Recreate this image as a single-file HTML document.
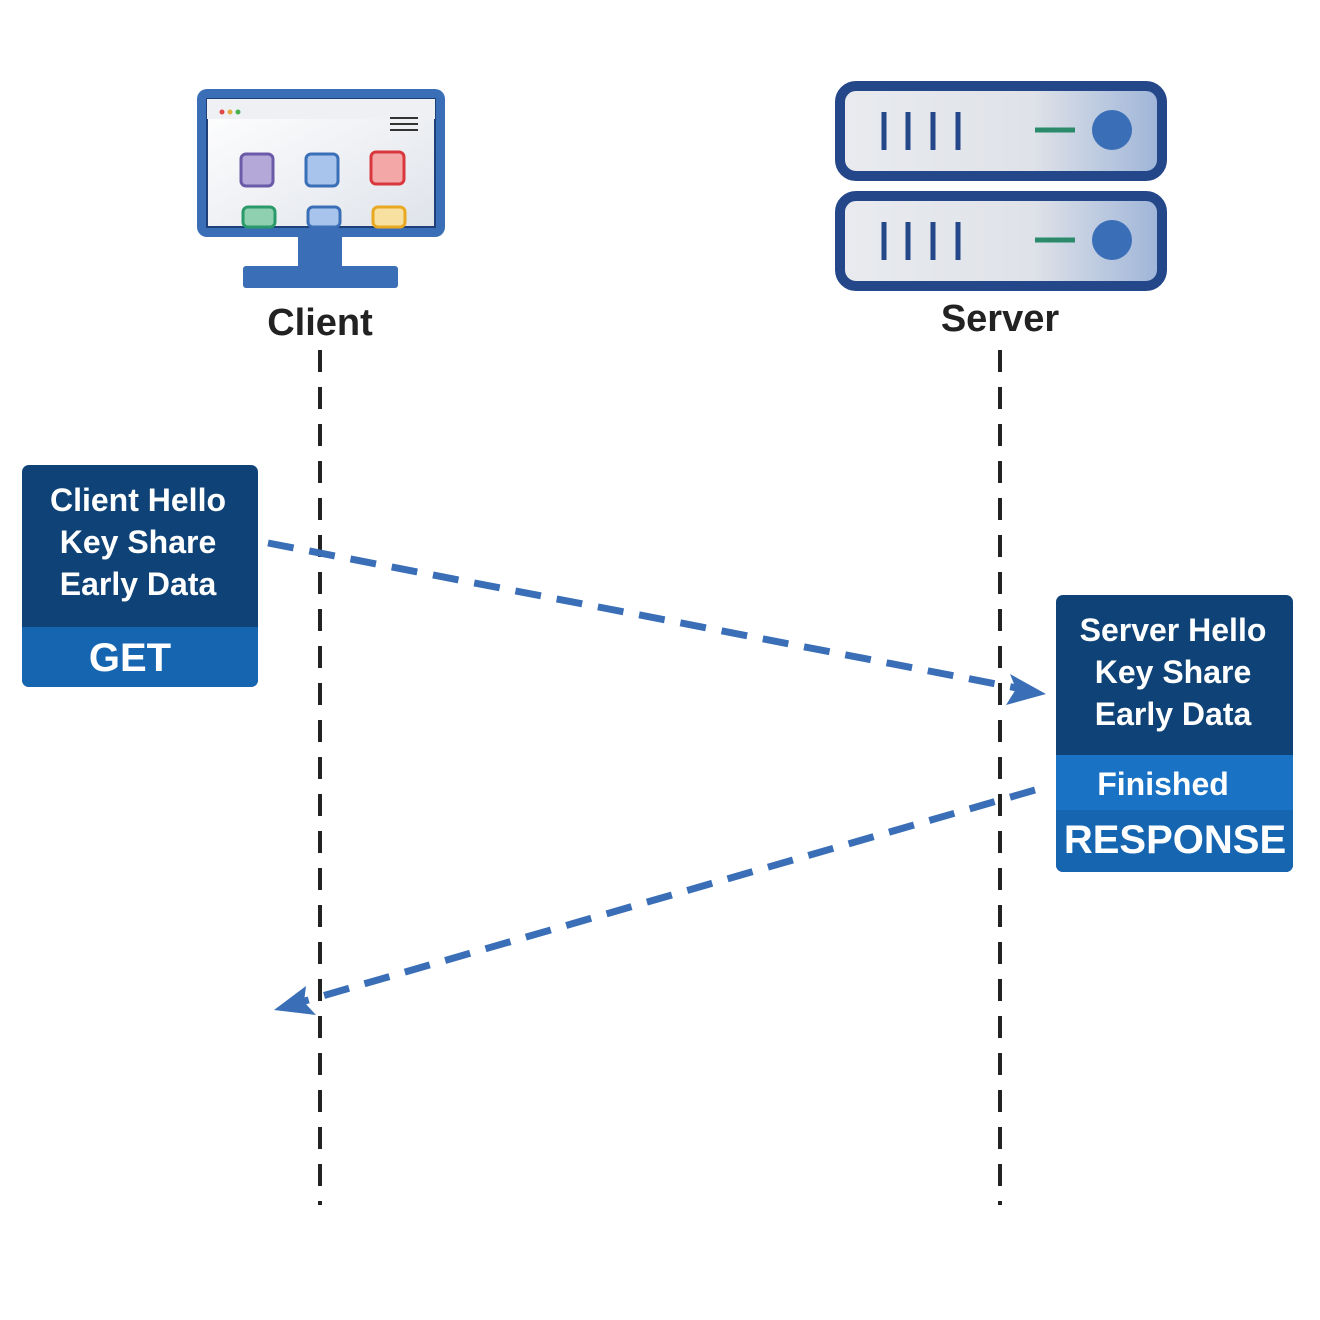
<!DOCTYPE html>
<html><head><meta charset="utf-8"><style>
html,body{margin:0;padding:0;background:#fff;}
svg{display:block;}
text{font-family:"Liberation Sans",sans-serif;font-weight:bold;}
</style></head><body>
<svg width="1320" height="1320" viewBox="0 0 1320 1320">
<defs>
<linearGradient id="scr" x1="0" y1="0" x2="1" y2="1"><stop offset="0" stop-color="#ffffff"/><stop offset="1" stop-color="#dfe3ea"/></linearGradient>
<linearGradient id="srv" x1="0" y1="0" x2="1" y2="0"><stop offset="0" stop-color="#e9ebef"/><stop offset="0.6" stop-color="#dfe2e8"/><stop offset="1" stop-color="#9db4d8"/></linearGradient>
</defs>
<g>
<rect x="197" y="89" width="248" height="148" rx="10" fill="#3a6fb8"/>
<rect x="207" y="99" width="228" height="128" fill="url(#scr)" stroke="#1f3f78" stroke-width="2"/>
<rect x="207" y="99" width="228" height="20" fill="#eef0f4"/>
<circle cx="222" cy="112" r="2.5" fill="#e04848"/><circle cx="230" cy="112" r="2.5" fill="#e0b040"/><circle cx="238" cy="112" r="2.5" fill="#4caf50"/>
<line x1="390" y1="118" x2="418" y2="118" stroke="#333" stroke-width="2"/><line x1="390" y1="124" x2="418" y2="124" stroke="#333" stroke-width="2"/><line x1="390" y1="130" x2="418" y2="130" stroke="#333" stroke-width="2"/>
<rect x="241" y="154" width="32" height="32" rx="5" fill="#b3a8d8" stroke="#6a5aa8" stroke-width="3"/>
<rect x="306" y="154" width="32" height="32" rx="5" fill="#a9c4ec" stroke="#3a6fb8" stroke-width="3"/>
<rect x="371" y="152" width="33" height="32" rx="5" fill="#f3a7a7" stroke="#d8383d" stroke-width="3"/>
<rect x="243" y="207" width="32" height="20" rx="5" fill="#8fd0b0" stroke="#2a9a6a" stroke-width="3"/>
<rect x="308" y="207" width="32" height="20" rx="5" fill="#a9c4ec" stroke="#3a6fb8" stroke-width="3"/>
<rect x="373" y="207" width="32" height="20" rx="5" fill="#f8e0a0" stroke="#e8a820" stroke-width="3"/>
<rect x="298" y="237" width="44" height="30" fill="#3a6fb8"/>
<rect x="243" y="266" width="155" height="22" rx="3" fill="#3a6fb8"/>
</g>
<g>
<rect x="840" y="86" width="322" height="90" rx="16" fill="url(#srv)" stroke="#24478a" stroke-width="10"/>
<rect x="840" y="196" width="322" height="90" rx="16" fill="url(#srv)" stroke="#24478a" stroke-width="10"/>
<g stroke="#24478a" stroke-width="5">
<line x1="884" y1="112" x2="884" y2="150"/><line x1="908" y1="112" x2="908" y2="150"/><line x1="933" y1="112" x2="933" y2="150"/><line x1="958" y1="112" x2="958" y2="150"/>
<line x1="884" y1="222" x2="884" y2="260"/><line x1="908" y1="222" x2="908" y2="260"/><line x1="933" y1="222" x2="933" y2="260"/><line x1="958" y1="222" x2="958" y2="260"/>
</g>
<line x1="1035" y1="130" x2="1075" y2="130" stroke="#2a8a6a" stroke-width="5"/>
<line x1="1035" y1="240" x2="1075" y2="240" stroke="#2a8a6a" stroke-width="5"/>
<circle cx="1112" cy="130" r="20" fill="#3a6fb8"/><circle cx="1112" cy="240" r="20" fill="#3a6fb8"/>
</g>
<text x="320" y="335" font-size="38" text-anchor="middle" fill="#222">Client</text>
<text x="1000" y="331" font-size="38" text-anchor="middle" fill="#222">Server</text>
<line x1="320" y1="350" x2="320" y2="1205" stroke="#222" stroke-width="4" stroke-dasharray="22 15"/>
<line x1="1000" y1="350" x2="1000" y2="1205" stroke="#222" stroke-width="4" stroke-dasharray="22 15"/>
<g>
<rect x="22" y="465" width="236" height="222" rx="7" fill="#0f4377"/>
<path d="M22 627 H258 V680 a7 7 0 0 1 -7 7 H29 a7 7 0 0 1 -7 -7 Z" fill="#1565b0"/>
<g fill="#fff" font-size="32" text-anchor="middle">
<text x="138" y="511">Client Hello</text><text x="138" y="553">Key Share</text><text x="138" y="595">Early Data</text>
<text x="130" y="671" font-size="40">GET</text></g>
</g>
<g>
<rect x="1056" y="595" width="237" height="277" rx="7" fill="#0f4377"/>
<rect x="1056" y="755" width="237" height="55" fill="#1a72c4"/>
<path d="M1056 810 H1293 V865 a7 7 0 0 1 -7 7 H1063 a7 7 0 0 1 -7 -7 Z" fill="#1565b0"/>
<g fill="#fff" font-size="32" text-anchor="middle">
<text x="1173" y="641">Server Hello</text><text x="1173" y="683">Key Share</text><text x="1173" y="725">Early Data</text>
<text x="1163" y="795">Finished</text>
<text x="1175" y="853" font-size="40">RESPONSE</text></g>
</g>
<g>
<line x1="268" y1="543" x2="1022" y2="689" stroke="#3a6fb8" stroke-width="7" stroke-dasharray="26 16"/>
<polygon points="1046,694 1010,674 1016,689 1006,705" fill="#3a6fb8"/>
</g>
<g>
<line x1="1035" y1="790" x2="298" y2="1003" stroke="#3a6fb8" stroke-width="7" stroke-dasharray="26 16"/>
<polygon points="274,1010 306,986 304,1002 316,1015" fill="#3a6fb8"/>
</g>
</svg>
</body></html>
